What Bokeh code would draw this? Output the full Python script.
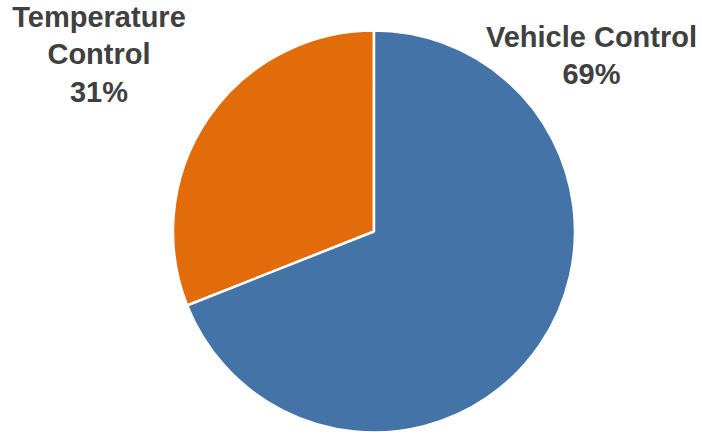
import math
from bokeh.plotting import figure
from bokeh.models import Range1d, ColumnDataSource
from bokeh.core.properties import value
from bokeh.embed import file_html
from bokeh.resources import INLINE

categories = ["Temperature Control", "Vehicle Control"]
shares = [31, 69]
colors = ["#E36C0A", "#4473A8"]
label_texts = ["Temperature\nControl\n31%", "Vehicle Control\n69%"]

W, H = 702, 435
p = figure(width=W, height=H, output_backend="svg", toolbar_location=None,
           x_range=Range1d(0, W), y_range=Range1d(435 - H, 435),
           min_border=0, outline_line_color=None)
p.axis.visible = False
p.grid.visible = False
p.background_fill_color = "white"

cx, cy, r = 373.5, 435 - 231, 201
total = sum(shares)
starts, ends = [], []
a = math.pi / 2
for s in shares:
    starts.append(a)
    a += s / total * 2 * math.pi
    ends.append(a)

src = ColumnDataSource(dict(start=starts, end=ends, color=colors, cat=categories))
p.wedge(x=cx, y=cy, radius=r, start_angle="start", end_angle="end",
        fill_color="color", line_color="white", line_width=2.5, source=src)

lab = ColumnDataSource(dict(x=[98.5, 591], y=[435 - 54, 435 - 55], text=label_texts))
p.text(x="x", y="y", text="text", source=lab, text_align="center",
       text_baseline="middle", text_font=value("Liberation Sans"),
       text_font_style="bold", text_font_size="29px", text_color="#404040",
       text_line_height=1.17)

open("out.html", "w").write(file_html(p, INLINE))
